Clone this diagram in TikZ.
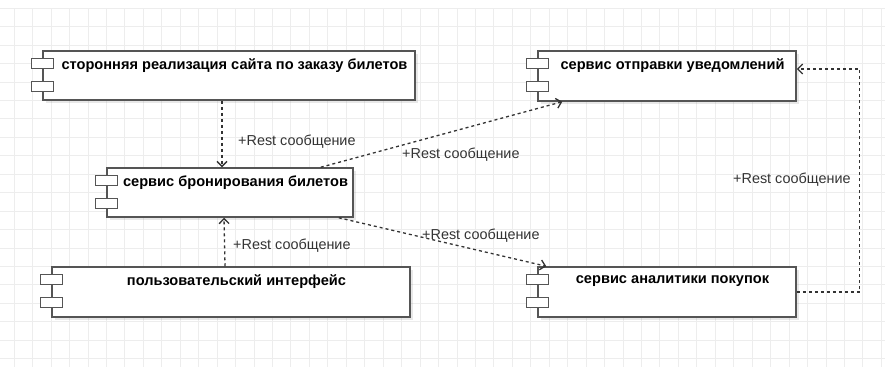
\documentclass[tikz,border=0pt]{standalone}
\usepackage{fontspec}
\setmainfont{Liberation Sans}
\usetikzlibrary{arrows.meta,shadows}
\definecolor{edgegray}{HTML}{555555}
\definecolor{linkgray}{HTML}{333333}
\definecolor{gridgray}{HTML}{EDEDED}
\tikzset{
  comp/.style={draw=edgegray,line width=1.5pt,fill=white,
    drop shadow={shadow xshift=2.5pt,shadow yshift=-2.5pt,opacity=0.18},
    minimum height=49pt,inner sep=0pt},
  port/.style={draw=edgegray,line width=1.4pt,fill=white,
    minimum width=22pt,minimum height=10pt,inner sep=0pt},
  title/.style={font=\fontsize{14.6}{17}\selectfont\bfseries,inner sep=0pt},
  rest/.style={draw=linkgray,line width=1.3pt,dash pattern=on 3pt off 3pt,
    -{Straight Barb[length=5pt,width=10pt]}},
  msg/.style={font=\fontsize{14.4}{17}\selectfont,text=linkgray,inner sep=0pt,anchor=west}
}
\begin{document}
\begin{tikzpicture}
[x=1pt,y=-1pt]
\useasboundingbox (0,0) rectangle (885,367);
\fill[white] (0,0) rectangle (885,367);

% background grid
\foreach \k in {0,...,47}
  \draw[gridgray,line width=0.6pt] (14+18.45*\k,8) -- (14+18.45*\k,367);
\foreach \k in {0,...,19}
  \draw[gridgray,line width=0.6pt] (0,8+18.45*\k) -- (885,8+18.45*\k);

% components
\node[comp,minimum width=372pt] (third) at (229,75.5) {};
\node[comp,minimum width=258pt,minimum height=50pt] (notify) at (667,76) {};
\node[comp,minimum width=246pt] (booking) at (230,192.5) {};
\node[comp,minimum width=358pt,minimum height=50pt] (ui) at (231,292) {};
\node[comp,minimum width=258pt,minimum height=50pt] (analytics) at (667,292) {};

\foreach \c in {third,notify,booking,ui,analytics} {
  \node[port] (\c-p1) at ([yshift=-13pt]\c.north west) {};
  \node[port] (\c-p2) at ([yshift=-36pt]\c.north west) {};
}

\node[title] (third-t) at ([xshift=5.5pt,yshift=-15pt]third.north)
  {сторонняя реализация сайта по заказу билетов};
\node[title] (notify-t) at ([xshift=5.5pt,yshift=-15pt]notify.north)
  {сервис отправки уведомлений};
\node[title] (booking-t) at ([xshift=5.5pt,yshift=-15pt]booking.north)
  {сервис бронирования билетов};
\node[title] (ui-t) at ([xshift=5.5pt,yshift=-15pt]ui.north)
  {пользовательский интерфейс};
\node[title] (analytics-t) at ([xshift=5.5pt,yshift=-15pt]analytics.north)
  {сервис аналитики покупок};

% messages
\draw[rest] ([xshift=-7pt]third.south) -- ([xshift=-8pt]booking.north);
\draw[rest] ([xshift=-6pt]ui.north) -- ([xshift=-6pt]booking.south);
\draw[rest] ([xshift=-33pt]booking.north east) -- ([xshift=25pt]notify.south west);
\draw[rest] ([xshift=-15pt]booking.south east) -- ([xshift=9pt]analytics.north west);
\draw[rest] (analytics.east) -- ++(63,0) |- ([yshift=7pt]notify.east);

\node[msg] (m1) at (238,142) {+Rest сообщение};
\node[msg] (m2) at (402,155) {+Rest сообщение};
\node[msg] (m3) at (422,236) {+Rest сообщение};
\node[msg] (m4) at (233,246) {+Rest сообщение};
\node[msg] (m5) at (733,180) {+Rest сообщение};
\end{tikzpicture}
\end{document}
